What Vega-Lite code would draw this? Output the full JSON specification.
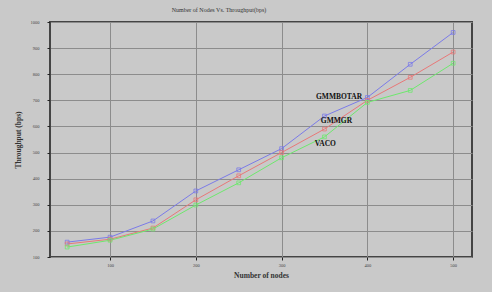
{
  "$schema": "https://vega.github.io/schema/vega-lite/v6.json",
  "width": 422,
  "height": 235,
  "autosize": {"type": "none"},
  "padding": {"left": 50, "top": 22, "right": 20, "bottom": 35},
  "background": "#c9c9c9",
  "title": {"text": "Number of Nodes Vs. Throughput(bps)", "fontSize": 6, "font": "Liberation Serif", "fontWeight": "normal", "color": "#333333", "offset": 6, "anchor": "middle", "dx": -42},
  "config": {
    "view": {"stroke": "#444444", "strokeWidth": 2, "fill": "#c9c9c9"},
    "axis": {"gridColor": "#8c8c8c", "gridWidth": 1, "gridOpacity": 1, "domain": false, "tickColor": "#222222", "tickSize": 3, "labelFontSize": 4.5, "labelColor": "#444444", "labelFont": "Liberation Serif", "titleFont": "Liberation Serif", "titleFontWeight": "bold", "titleColor": "#333333", "titleFontSize": 7.5, "labelOverlap": false, "labelFlush": false}
  },
  "datasets": {
    "series": [
      {"nodes": 50, "throughput": 157, "protocol": "GMMBOTAR"},
      {"nodes": 100, "throughput": 176, "protocol": "GMMBOTAR"},
      {"nodes": 150, "throughput": 238, "protocol": "GMMBOTAR"},
      {"nodes": 200, "throughput": 353, "protocol": "GMMBOTAR"},
      {"nodes": 250, "throughput": 434, "protocol": "GMMBOTAR"},
      {"nodes": 300, "throughput": 515, "protocol": "GMMBOTAR"},
      {"nodes": 350, "throughput": 640, "protocol": "GMMBOTAR"},
      {"nodes": 400, "throughput": 711, "protocol": "GMMBOTAR"},
      {"nodes": 450, "throughput": 838, "protocol": "GMMBOTAR"},
      {"nodes": 500, "throughput": 960, "protocol": "GMMBOTAR"},
      {"nodes": 50, "throughput": 150, "protocol": "GMMGR"},
      {"nodes": 100, "throughput": 168, "protocol": "GMMGR"},
      {"nodes": 150, "throughput": 211, "protocol": "GMMGR"},
      {"nodes": 200, "throughput": 319, "protocol": "GMMGR"},
      {"nodes": 250, "throughput": 411, "protocol": "GMMGR"},
      {"nodes": 300, "throughput": 500, "protocol": "GMMGR"},
      {"nodes": 350, "throughput": 590, "protocol": "GMMGR"},
      {"nodes": 400, "throughput": 700, "protocol": "GMMGR"},
      {"nodes": 450, "throughput": 788, "protocol": "GMMGR"},
      {"nodes": 500, "throughput": 885, "protocol": "GMMGR"},
      {"nodes": 50, "throughput": 138, "protocol": "VACO"},
      {"nodes": 100, "throughput": 164, "protocol": "VACO"},
      {"nodes": 150, "throughput": 207, "protocol": "VACO"},
      {"nodes": 200, "throughput": 299, "protocol": "VACO"},
      {"nodes": 250, "throughput": 384, "protocol": "VACO"},
      {"nodes": 300, "throughput": 480, "protocol": "VACO"},
      {"nodes": 350, "throughput": 560, "protocol": "VACO"},
      {"nodes": 400, "throughput": 692, "protocol": "VACO"},
      {"nodes": 450, "throughput": 738, "protocol": "VACO"},
      {"nodes": 500, "throughput": 842, "protocol": "VACO"}
    ],
    "labels": [
      {"nodes": 367, "throughput": 712, "name": "GMMBOTAR"},
      {"nodes": 364, "throughput": 620, "name": "GMMGR"},
      {"nodes": 351, "throughput": 532, "name": "VACO"}
    ]
  },
  "encoding": {
    "x": {"field": "nodes", "type": "quantitative", "scale": {"domain": [30, 522], "nice": false, "zero": false}, "axis": {"values": [100, 200, 300, 400, 500], "format": "d", "title": "Number of nodes", "labelPadding": 2, "titlePadding": 5}},
    "y": {"field": "throughput", "type": "quantitative", "scale": {"domain": [100, 1000], "nice": false, "zero": false}, "axis": {"values": [100, 200, 300, 400, 500, 600, 700, 800, 900, 1000], "format": "d", "title": "Throughput (bps)", "labelPadding": 8, "titlePadding": 8}}
  },
  "layer": [
    {
      "data": {"name": "series"},
      "mark": {"type": "line", "strokeWidth": 1, "point": {"shape": "square", "size": 14, "filled": false, "strokeWidth": 0.8}},
      "encoding": {
        "color": {"field": "protocol", "type": "nominal", "scale": {"domain": ["GMMBOTAR", "GMMGR", "VACO"], "range": ["#7b7be8", "#e87878", "#6ee86e"]}, "legend": null}
      }
    },
    {
      "data": {"name": "labels"},
      "mark": {"type": "text", "font": "Liberation Serif", "fontWeight": "bold", "fontSize": 7.5, "color": "#111111", "align": "center", "baseline": "middle"},
      "encoding": {
        "text": {"field": "name"}
      }
    }
  ]
}
